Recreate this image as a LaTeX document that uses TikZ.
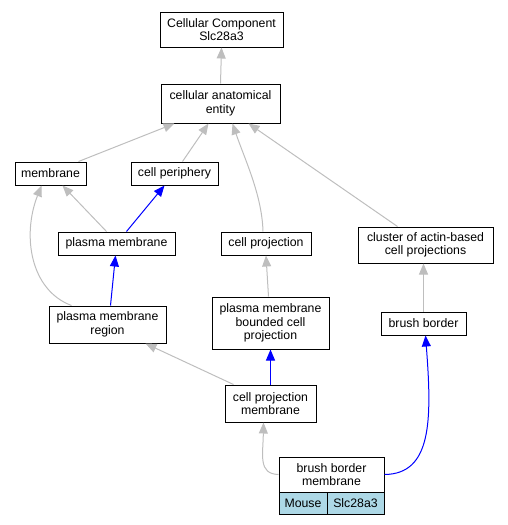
\documentclass[tikz,border=0pt]{standalone}
\usepackage{fontspec}
\setmainfont{Liberation Sans}
\usetikzlibrary{arrows.meta}
\definecolor{edgegray}{HTML}{BEBEBE}
\definecolor{cellblue}{HTML}{ADD8E6}
\begin{document}
\begin{tikzpicture}[x=1pt,y=-1pt,
  box/.style={draw=black,line width=1pt,fill=white,inner sep=0pt,align=center,font=\fontsize{12.3}{13.6}\selectfont},
  grayedge/.style={draw=edgegray,line width=1pt,-{Triangle[length=11pt,width=9pt]}},
  blueedge/.style={draw=blue,line width=1pt,-{Triangle[length=11pt,width=9pt]}}]
\useasboundingbox (0,0) rectangle (508,525);
\node[box,minimum width=123,minimum height=35] (cc) at (221.5,29.5) {Cellular Component\\Slc28a3};
\node[box,minimum width=119,minimum height=39] (cae) at (220.5,103.5) {cellular anatomical\\entity};
\node[box,minimum width=71,minimum height=23] (mem) at (50.5,173.5) {membrane};
\node[box,minimum width=87,minimum height=23] (cper) at (174.5,173.5) {cell periphery};
\node[box,minimum width=117,minimum height=23] (pm) at (116.5,243.5) {plasma membrane};
\node[box,minimum width=90,minimum height=23] (cproj) at (266,243.5) {cell projection};
\node[box,minimum width=135,minimum height=36] (clus) at (425.5,245) {cluster of actin-based\\cell projections};
\node[box,minimum width=117,minimum height=37] (pmr) at (107.5,324.5) {plasma membrane\\region};
\node[box,minimum width=117,minimum height=52] (pmbcp) at (270.5,323) {plasma membrane\\bounded cell\\projection};
\node[box,minimum width=85,minimum height=23] (bb) at (423.5,323.5) {brush border};
\node[box,minimum width=91,minimum height=37] (cpm) at (270.5,403.5) {cell projection\\membrane};
\node[box,minimum width=105,minimum height=35] (bbm) at (331.5,474.5) {brush border\\membrane};
\node[box,fill=cellblue,minimum width=48,minimum height=22] (mouse) at (303,503) {Mouse};
\node[box,fill=cellblue,minimum width=57,minimum height=22] (gene) at (355.5,503) {Slc28a3};
% edges
\draw[grayedge] (cae.north) -- (cc.south);
\draw[grayedge] ([xshift=28]mem.north) -- ([xshift=-46]cae.south);
\draw[grayedge] ([xshift=8]cper.north) -- ([xshift=-12]cae.south);
\draw[grayedge] ([xshift=-3]cproj.north) .. controls (262,195) and (245,160) .. ([xshift=12]cae.south);
\draw[grayedge] ([xshift=-28]clus.north) -- ([xshift=28]cae.south);
\draw[grayedge] ([xshift=-10]pm.north) -- ([xshift=12]mem.south);
\draw[blueedge] ([xshift=10]pm.north) -- ([xshift=-10]cper.south);
\draw[grayedge] ([xshift=-36]pmr.north) .. controls (30,290) and (22,235) .. ([xshift=-9]mem.south);
\draw[blueedge] ([xshift=3]pmr.north) -- ([xshift=-1]pm.south);
\draw[grayedge] ([xshift=-37]cpm.north) -- ([xshift=38]pmr.south);
\draw[blueedge] (cpm.north) -- (pmbcp.south);
\draw[grayedge] ([xshift=-2]pmbcp.north) -- (cproj.south);
\draw[grayedge] (bb.north) -- ([xshift=-2]clus.south);
\draw[grayedge] (bbm.west) .. controls (258,474) and (263,455) .. ([xshift=-7]cpm.south);
\draw[blueedge] (bbm.east) .. controls (432,474) and (432,420) .. ([xshift=2]bb.south);
\end{tikzpicture}
\end{document}
